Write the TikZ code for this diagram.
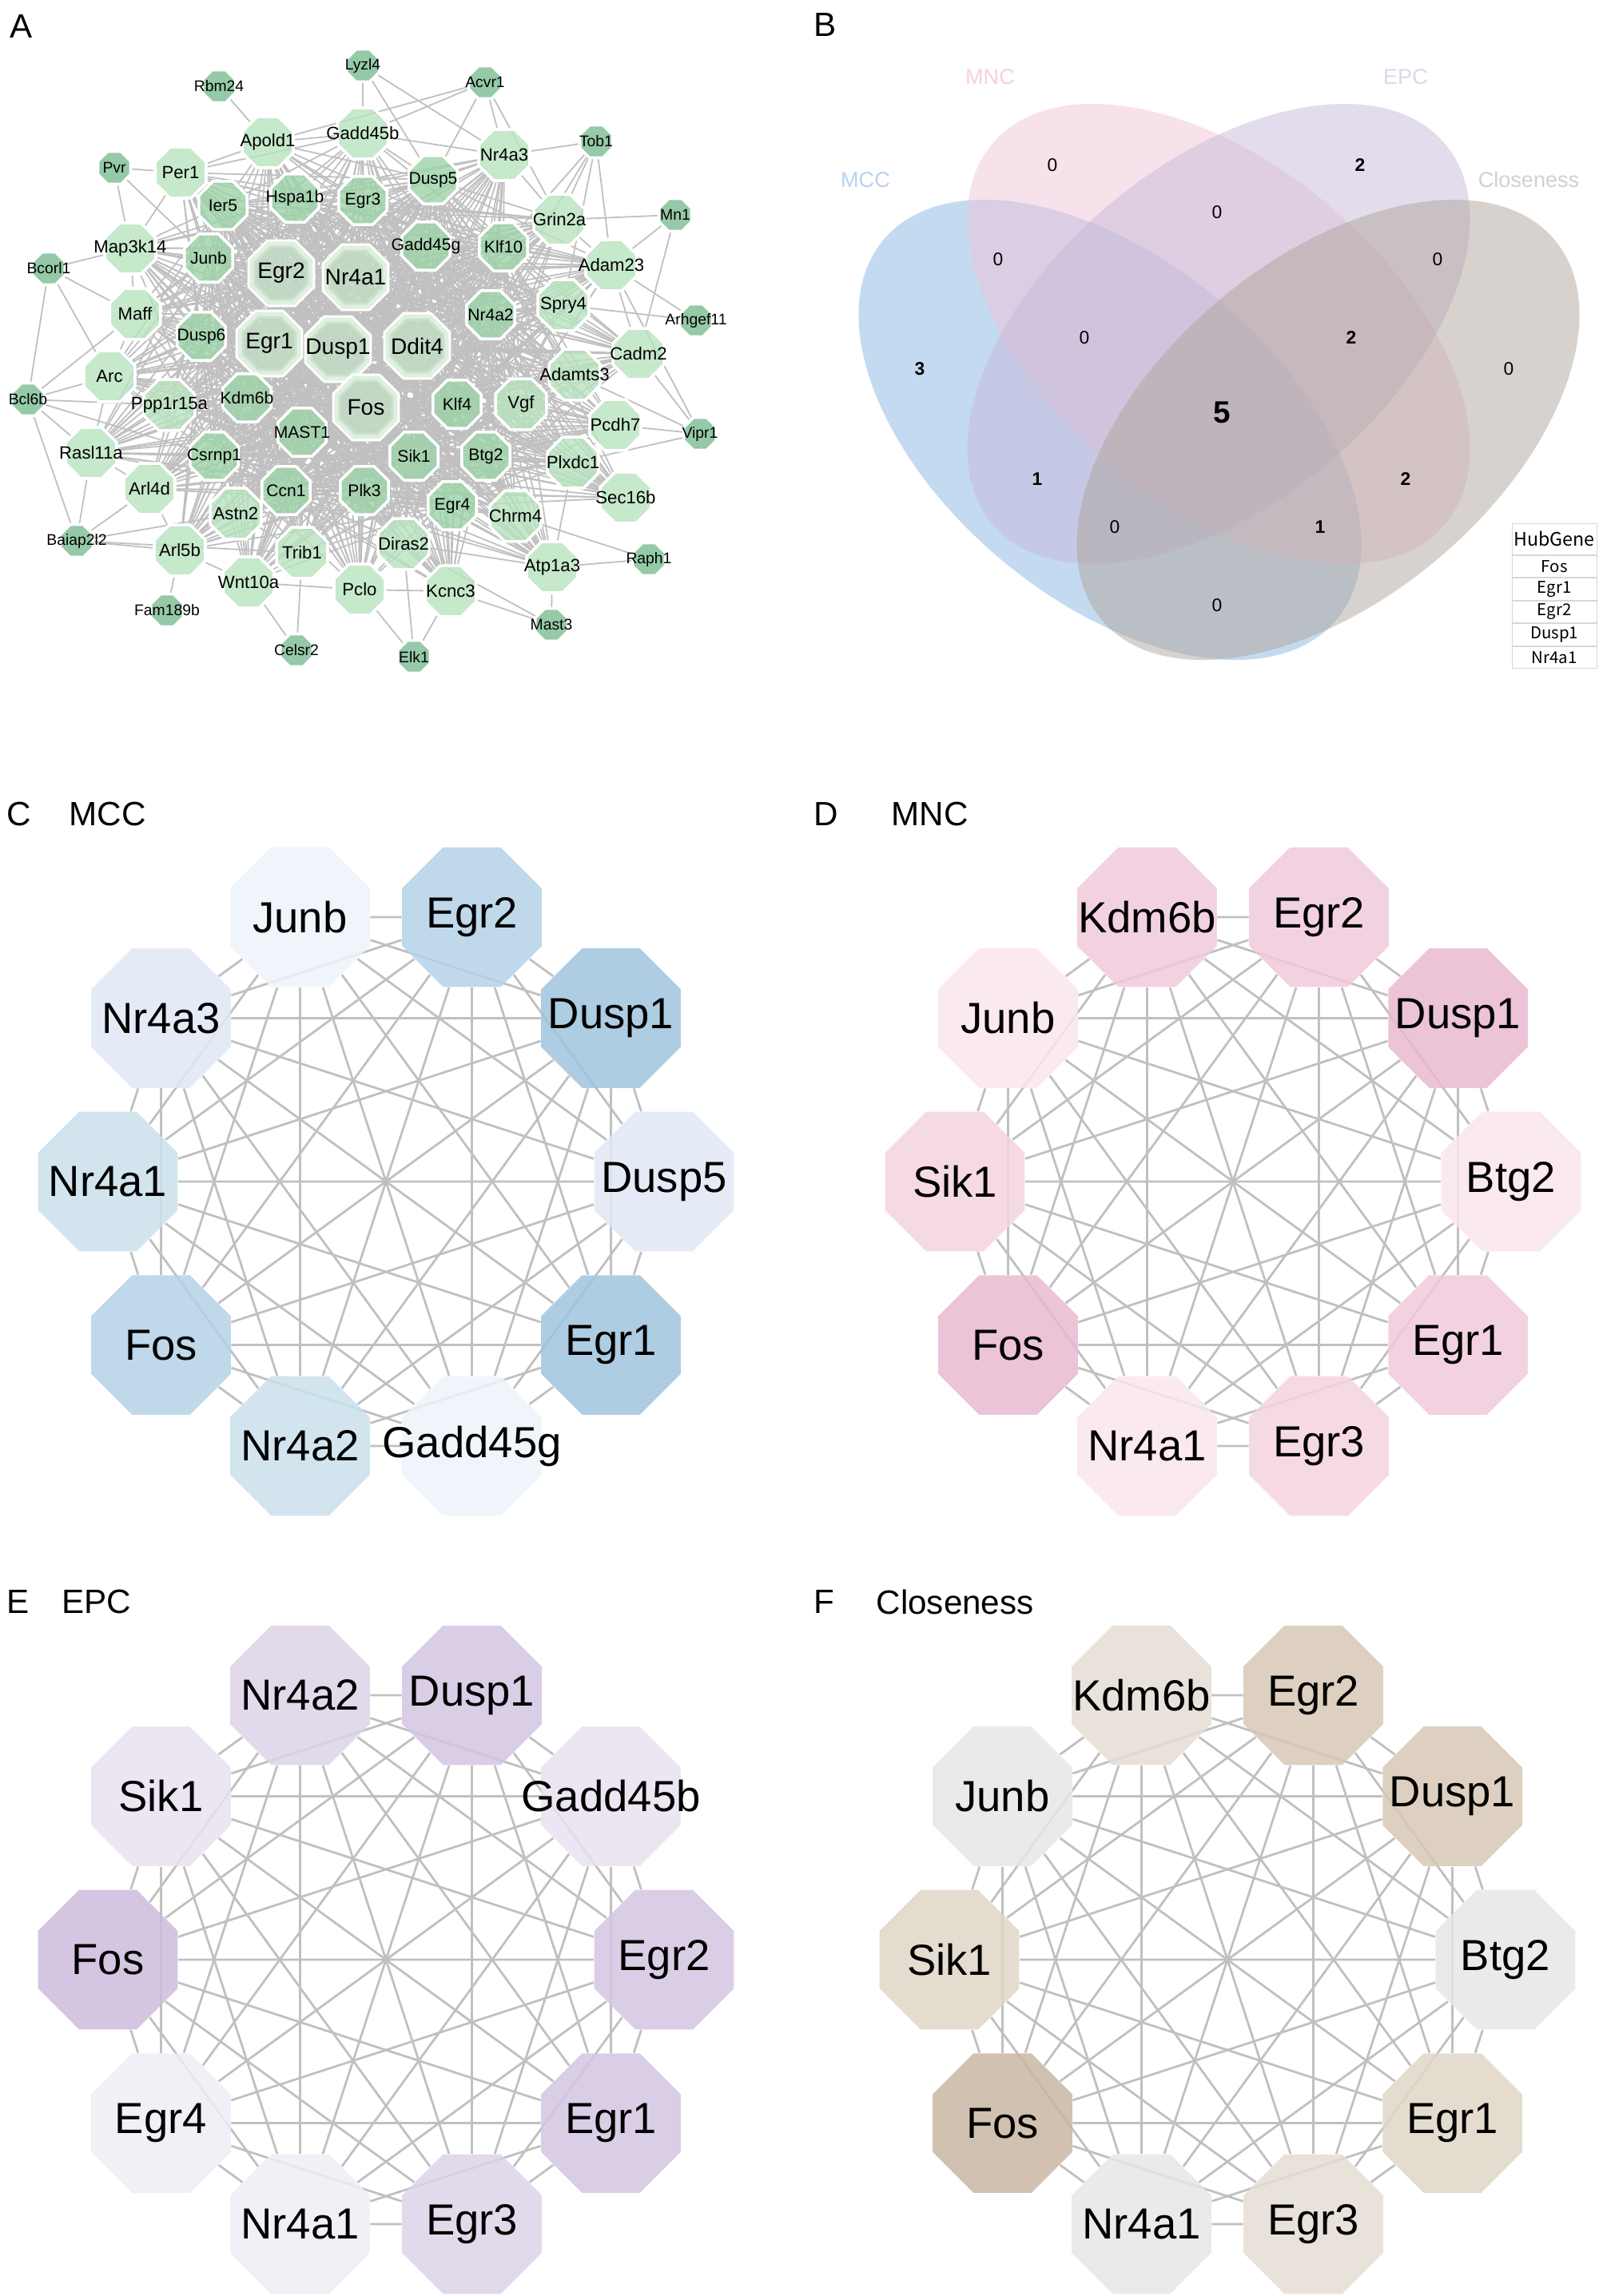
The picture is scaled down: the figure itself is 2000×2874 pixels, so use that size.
\documentclass[tikz,border=0pt]{standalone}
\usepackage{fontspec}
\setmainfont{Liberation Sans}
\newfontfamily\tabfont{Noto Sans CJK SC}
\usepackage{tikz}
\usetikzlibrary{shapes.geometric,backgrounds}

\definecolor{edgegray}{RGB}{192,192,192}
\definecolor{netLight}{RGB}{184,226,190}
\definecolor{netMid}{RGB}{156,211,168}
\definecolor{netDark}{RGB}{122,188,146}
\definecolor{netCore}{RGB}{194,220,196}
\definecolor{netCoreRim}{RGB}{222,240,222}
\definecolor{vennBlue}{RGB}{137,181,225}
\definecolor{vennPink}{RGB}{240,195,215}
\definecolor{vennPurple}{RGB}{200,185,218}
\definecolor{vennGrey}{RGB}{175,165,155}
\definecolor{lblMCC}{RGB}{185,210,238}
\definecolor{lblMNC}{RGB}{246,208,222}
\definecolor{lblEPC}{RGB}{222,214,232}
\definecolor{lblClose}{RGB}{212,208,204}
\definecolor{tabgray}{RGB}{215,215,215}
\definecolor{mccPale}{RGB}{237,243,250}
\definecolor{mccPaleB}{RGB}{224,232,244}
\definecolor{mccCyan}{RGB}{202,225,236}
\definecolor{mccMid}{RGB}{180,209,230}
\definecolor{mccDark}{RGB}{160,195,221}
\definecolor{mncPale}{RGB}{250,229,238}
\definecolor{mncLight}{RGB}{243,212,226}
\definecolor{mncMid}{RGB}{240,202,219}
\definecolor{mncDark}{RGB}{233,184,208}
\definecolor{epcPale}{RGB}{239,237,245}
\definecolor{epcLight}{RGB}{231,226,239}
\definecolor{epcMid}{RGB}{221,211,232}
\definecolor{epcDeep}{RGB}{212,197,226}
\definecolor{epcDark}{RGB}{204,188,221}
\definecolor{clsPale}{RGB}{232,230,228}
\definecolor{clsLight}{RGB}{228,221,212}
\definecolor{clsMid}{RGB}{225,214,200}
\definecolor{clsDeep}{RGB}{215,200,181}
\definecolor{clsDark}{RGB}{200,182,162}

% label that does not widen its octagon
\newcommand{\nowidth}[1]{\makebox[0pt]{#1}}

\def\coreList{Egr2,Nr4a1,Egr1,Dusp1,Ddit4,Fos}
\def\midList{Ier5,Hspa1b,Egr3,Dusp5,Junb,Gadd45g,Klf10,Nr4a2,Dusp6,Kdm6b,MAST1,Klf4,Sik1,Plk3,Btg2,Egr4,Csrnp1,Ccn1}
\def\lightList{Gadd45b,Apold1,Nr4a3,Per1,Grin2a,Map3k14,Adam23,Maff,Spry4,Cadm2,Arc,Adamts3,Ppp1r15a,Vgf,Pcdh7,Rasl11a,Plxdc1,Arl4d,Sec16b,Astn2,Chrm4,Arl5b,Trib1,Diras2,Atp1a3,Wnt10a,Pclo,Kcnc3}

\begin{document}
\begin{tikzpicture}[x=0.1mm, y=-0.1mm,
    net_edge/.style ={draw=edgegray, line width=0.18mm},
    ring_edge/.style ={draw=edgegray, line width=0.28mm},
    gene_core/.style ={regular polygon, regular polygon sides=8, inner sep=0pt,
      minimum size=8mm, fill=netCore, fill opacity=0.85, text opacity=1,
      draw=netCoreRim, line width=0.5mm, preaction={draw=white, line width=1.1mm},
      font=\fontsize{8}{9}\selectfont},
    gene_mid/.style ={regular polygon, regular polygon sides=8, inner sep=0pt,
      minimum size=6.5mm, fill=netMid, fill opacity=0.8, text opacity=1,
      draw=white, line width=0.35mm, font=\fontsize{6}{7}\selectfont},
    gene_light/.style ={gene_mid, minimum size=6.9mm, fill=netLight,
      font=\fontsize{6.3}{7}\selectfont},
    gene_small/.style ={gene_mid, minimum size=4.4mm, fill=netDark,
      font=\fontsize{5.5}{6}\selectfont},
    ring_gene/.style ={regular polygon, regular polygon sides=8, inner sep=0pt,
      minimum size=18.9mm, fill opacity=0.85, text opacity=1,
      font=\fontsize{15.5}{17}\selectfont},
    panel_tag/.style ={anchor=west, inner sep=0pt, font=\fontsize{12}{14}\selectfont},
    venn_fill/.style ={fill opacity=0.5},
    venn_num/.style ={inner sep=0pt, font=\fontsize{6.5}{7}\selectfont},
    venn_set/.style ={inner sep=0pt, font=\fontsize{7.7}{9}\selectfont},
    hub_cell/.style ={rectangle, draw=tabgray, line width=0.1mm, inner sep=0pt,
      minimum width=10.6mm, minimum height=2.75mm, font=\tabfont\fontsize{5.8}{6}\selectfont},
    hub_head/.style ={hub_cell, minimum height=3.9mm, font=\tabfont\fontsize{6.6}{7}\selectfont}]
  \useasboundingbox (0,0) rectangle (2000,2874);

  % A - PPI network
  \node[panel_tag] (tagA) at (12,33) {A};
  \foreach \g/\x/\y in {Egr2/352/342, Nr4a1/445/347, Egr1/337/430, Dusp1/423/437,
      Ddit4/522/433, Fos/458/510}
    \node[gene_core] (a\g) at (\x,\y) {\nowidth{\g}};
  \foreach \g/\x/\y in {Ier5/279/257, Hspa1b/369/248, Egr3/454/251, Dusp5/542/225,
      Junb/261/323, Gadd45g/533/308, Klf10/630/309, Nr4a2/614/394, Dusp6/252/421,
      Kdm6b/309/498, MAST1/378/541, Klf4/572/506, Sik1/518/571, Plk3/456/614,
      Btg2/608/571, Egr4/566/633, Csrnp1/268/571, Ccn1/358/614}
    \node[gene_mid] (a\g) at (\x,\y) {\nowidth{\g}};
  \foreach \g/\x/\y in {Gadd45b/454/167, Apold1/335/178, Nr4a3/631/194, Per1/226/216,
      Grin2a/700/275, Map3k14/163/311, Adam23/765/332, Maff/169/393, Spry4/705/382,
      Cadm2/799/443, Arc/137/471, Adamts3/719/469, Ppp1r15a/212/507, Vgf/652/506,
      Pcdh7/770/532, Rasl11a/114/567, Plxdc1/717/579, Arl4d/187/612, Sec16b/783/623,
      Astn2/295/643, Chrm4/645/646, Arl5b/225/689, Trib1/378/692, Diras2/505/681,
      Atp1a3/691/710, Wnt10a/311/729, Pclo/450/738, Kcnc3/564/740}
    \node[gene_light] (a\g) at (\x,\y) {\nowidth{\g}};
  \foreach \g/\x/\y in {Lyzl4/454/82, Rbm24/274/108, Acvr1/607/103, Tob1/746/177,
      Pvr/143/210, Mn1/845/269, Bcorl1/61/336, Arhgef11/871/401, Bcl6b/35/500,
      Vipr1/876/543, Baiap2l2/96/677, Raph1/812/700, Fam189b/209/764, Mast3/690/782,
      Celsr2/371/814, Elk1/518/822}
    \node[gene_small] (a\g) at (\x,\y) {\nowidth{\g}};

  \begin{pgfonlayer}{background}
    % hubs to hubs
    \foreach \u/\v in {Egr2/Nr4a1, Egr2/Egr1, Egr2/Dusp1, Egr2/Ddit4, Egr2/Fos,
        Nr4a1/Egr1, Nr4a1/Dusp1, Nr4a1/Ddit4, Nr4a1/Fos, Egr1/Dusp1, Egr1/Ddit4,
        Egr1/Fos, Dusp1/Ddit4, Dusp1/Fos, Ddit4/Fos}
      \draw[net_edge] (a\u) -- (a\v);
    % hubs to the rest
    \foreach \u in \coreList {
      \foreach \v in \midList {\draw[net_edge] (a\u) -- (a\v);}
      \foreach \v in \lightList {\draw[net_edge] (a\u) -- (a\v);}
    }
    % inner ring among itself and to the outer ring
    \foreach \u [count=\i] in \midList {
      \foreach \v [count=\j] in \midList {\ifnum\j>\i \draw[net_edge] (a\u) -- (a\v);\fi}
      \foreach \v in \lightList {\draw[net_edge] (a\u) -- (a\v);}
    }
    \foreach \u/\v in {Per1/Apold1, Apold1/Gadd45b, Gadd45b/Nr4a3, Nr4a3/Grin2a,
        Grin2a/Adam23, Adam23/Cadm2, Spry4/Cadm2, Adamts3/Vgf, Pcdh7/Plxdc1,
        Plxdc1/Atp1a3, Chrm4/Atp1a3, Kcnc3/Pclo, Pclo/Wnt10a, Wnt10a/Arl5b,
        Arl5b/Arl4d, Arl4d/Rasl11a, Rasl11a/Arc, Arc/Maff, Maff/Map3k14,
        Map3k14/Per1, Trib1/Astn2, Diras2/Atp1a3, Sec16b/Plxdc1, Per1/Gadd45b}
      \draw[net_edge] (a\u) -- (a\v);
    % outer genes
    \foreach \u/\v in {Lyzl4/Gadd45b, Lyzl4/Dusp5, Lyzl4/Nr4a3, Rbm24/Apold1,
        Acvr1/Gadd45b, Acvr1/Nr4a3, Acvr1/Dusp5, Acvr1/Grin2a, Acvr1/Apold1,
        Tob1/Nr4a3, Tob1/Grin2a, Tob1/Klf10, Tob1/Spry4, Tob1/Adam23, Tob1/Nr4a2,
        Pvr/Per1, Pvr/Map3k14, Pvr/Junb, Mn1/Grin2a, Mn1/Adam23, Mn1/Cadm2,
        Bcorl1/Map3k14, Bcorl1/Maff, Bcorl1/Bcl6b, Bcorl1/Arc, Arhgef11/Adam23,
        Arhgef11/Spry4, Bcl6b/Arc, Bcl6b/Maff, Bcl6b/Ppp1r15a, Bcl6b/Rasl11a,
        Bcl6b/Baiap2l2, Bcl6b/Csrnp1, Vipr1/Cadm2, Vipr1/Pcdh7, Vipr1/Adamts3,
        Vipr1/Plxdc1, Vipr1/Adam23, Baiap2l2/Arl4d, Baiap2l2/Arl5b,
        Baiap2l2/Rasl11a, Baiap2l2/Astn2, Baiap2l2/Trib1, Raph1/Atp1a3,
        Raph1/Chrm4, Fam189b/Arl5b, Mast3/Atp1a3, Mast3/Diras2, Mast3/Kcnc3,
        Celsr2/Wnt10a, Celsr2/Trib1, Elk1/Pclo, Elk1/Kcnc3, Elk1/Diras2}
      \draw[net_edge] (a\u) -- (a\v);
  \end{pgfonlayer}

  % B - Venn of the four rankings
  \node[panel_tag] (tagB) at (1018,31) {B};
  \fill[venn_fill, fill=vennBlue, rotate around={-40:(1389,538)}]
    (1389,538) ellipse [x radius=37mm, y radius=21.2mm];
  \fill[venn_fill, fill=vennPink, rotate around={-40:(1525,418)}]
    (1525,418) ellipse [x radius=37mm, y radius=21.2mm];
  \fill[venn_fill, fill=vennPurple, rotate around={40:(1525,418)}]
    (1525,418) ellipse [x radius=37mm, y radius=21.2mm];
  \fill[venn_fill, fill=vennGrey, rotate around={40:(1662,538)}]
    (1662,538) ellipse [x radius=37mm, y radius=21.2mm];
  \node[venn_set, text=lblMCC] (setMCC) at (1083,225) {MCC};
  \node[venn_set, text=lblMNC] (setMNC) at (1239,96) {MNC};
  \node[venn_set, text=lblEPC] (setEPC) at (1759,96) {EPC};
  \node[venn_set, text=lblClose] (setClose) at (1913,225) {Closeness};
  \foreach \x/\y [count=\k] in {1317/207, 1523/266, 1249/325, 1799/325, 1357/423,
      1888/462, 1395/660, 1523/758}
    \node[venn_num] (zero\k) at (\x,\y) {0};
  \foreach \x/\y/\n [count=\k] in {1702/207/2, 1691/423/2, 1151/462/3, 1298/600/1,
      1759/600/2, 1652/660/1}
    \node[venn_num, font=\fontsize{6.5}{7}\selectfont\bfseries] (count\k) at (\x,\y) {\n};
  \node[venn_num, font=\fontsize{11}{12}\selectfont\bfseries] (countAll) at (1529,516) {5};
  \matrix (hubTable) [anchor=north west, inner sep=0pt, column sep=0mm, row sep=0mm]
    at (1891,654) {
      \node[hub_head] (tHead) {HubGene}; \\
      \node[hub_cell] (tFos) {Fos}; \\
      \node[hub_cell] (tEgr1) {Egr1}; \\
      \node[hub_cell] (tEgr2) {Egr2}; \\
      \node[hub_cell] (tDusp1) {Dusp1}; \\
      \node[hub_cell] (tNr4a1) {Nr4a1}; \\
    };

  % C - MCC
  \node[panel_tag] (tagC) at (8,1019) {C};
  \node[panel_tag] (titleC) at (86,1019) {MCC};
  \begin{scope}[shift={(483,1479)}]
    \foreach \g/\c [count=\i] in {Dusp5/mccPaleB, Egr1/mccDark, Gadd45g/mccPale,
        Nr4a2/mccCyan, Fos/mccMid, Nr4a1/mccCyan, Nr4a3/mccPaleB, Junb/mccPale,
        Egr2/mccMid, Dusp1/mccDark}
      \node[ring_gene, fill=\c] (c\i) at ({(\i-1)*36}:348) {\nowidth{\g}};
  \end{scope}
  \begin{pgfonlayer}{background}
    \foreach \i in {1,...,9}
      \foreach \j in {\i,...,10}
        {\ifnum\j>\i \draw[ring_edge] (c\i) -- (c\j);\fi}
  \end{pgfonlayer}

  % D - MNC
  \node[panel_tag] (tagD) at (1018,1019) {D};
  \node[panel_tag] (titleD) at (1115,1019) {MNC};
  \begin{scope}[shift={(1543,1479)}]
    \foreach \g/\c [count=\i] in {Btg2/mncPale, Egr1/mncMid, Egr3/mncLight,
        Nr4a1/mncPale, Fos/mncDark, Sik1/mncLight, Junb/mncPale, Kdm6b/mncMid,
        Egr2/mncMid, Dusp1/mncDark}
      \node[ring_gene, fill=\c] (d\i) at ({(\i-1)*36}:348) {\nowidth{\g}};
  \end{scope}
  \begin{pgfonlayer}{background}
    \foreach \i in {1,...,9}
      \foreach \j in {\i,...,10}
        {\ifnum\j>\i \draw[ring_edge] (d\i) -- (d\j);\fi}
  \end{pgfonlayer}

  % E - EPC
  \node[panel_tag] (tagE) at (8,2005) {E};
  \node[panel_tag] (titleE) at (77,2005) {EPC};
  \begin{scope}[shift={(483,2453)}]
    \foreach \g/\c [count=\i] in {Egr2/epcDeep, Egr1/epcDeep, Egr3/epcMid,
        Nr4a1/epcPale, Egr4/epcPale, Fos/epcDark, Sik1/epcLight, Nr4a2/epcMid,
        Dusp1/epcDeep, Gadd45b/epcLight}
      \node[ring_gene, fill=\c] (e\i) at ({(\i-1)*36}:348) {\nowidth{\g}};
  \end{scope}
  \begin{pgfonlayer}{background}
    \foreach \i in {1,...,9}
      \foreach \j in {\i,...,10}
        {\ifnum\j>\i \draw[ring_edge] (e\i) -- (e\j);\fi}
  \end{pgfonlayer}

  % F - Closeness
  \node[panel_tag] (tagF) at (1018,2005) {F};
  \node[panel_tag] (titleF) at (1096,2005) {Closeness};
  \begin{scope}[shift={(1536,2453)}]
    \foreach \g/\c [count=\i] in {Btg2/clsPale, Egr1/clsMid, Egr3/clsLight,
        Nr4a1/clsPale, Fos/clsDark, Sik1/clsMid, Junb/clsPale, Kdm6b/clsLight,
        Egr2/clsDeep, Dusp1/clsDeep}
      \node[ring_gene, fill=\c] (f\i) at ({(\i-1)*36}:348) {\nowidth{\g}};
  \end{scope}
  \begin{pgfonlayer}{background}
    \foreach \i in {1,...,9}
      \foreach \j in {\i,...,10}
        {\ifnum\j>\i \draw[ring_edge] (f\i) -- (f\j);\fi}
  \end{pgfonlayer}
\end{tikzpicture}
\end{document}
